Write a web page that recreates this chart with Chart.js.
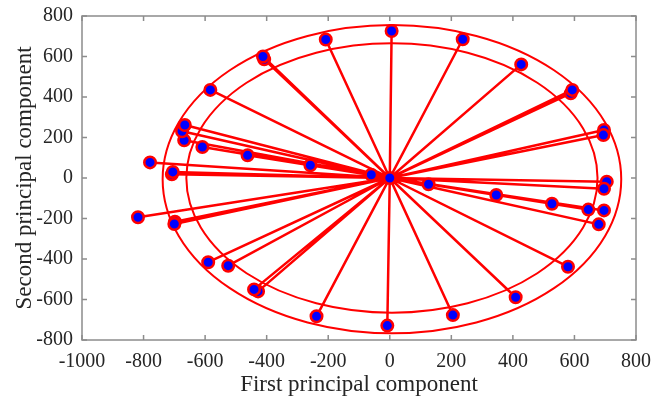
<!DOCTYPE html>
<html>
<head>
<meta charset="utf-8">
<script src="https://cdn.jsdelivr.net/npm/chart.js@4"></script>
<style>
  html, body { margin: 0; padding: 0; background: #fff; }
  #wrap { width: 664px; height: 397px; }
</style>
</head>
<body>
<div id="wrap"><canvas id="myChart" width="664" height="397"></canvas></div>
<script>
// scores on the first two principal components
const pc1 = [6, 237, 427, 588, 593, 696, 694, 705, 696, 126, 346, 527, 645, 696, 679, 579, 409, 205, -8,
  -238, -428, -441, -525, -590, -698, -700, -818, -708, -705, -779, -258, -462, -609, -668, -675, -666,
  -583, -408, -412, -208, -60, 0];
const pc2 = [726, 685, 561, 418, 435, 237, 212, -18, -53, -31, -84, -127, -156, -160, -229, -438, -589, -677, -729,
  -683, -560, -550, -433, -416, -216, -227, -194, 18, 30, 77, 63, 112, 153, 186, 231, 262,
  435, 586, 600, 684, 16, 0];

// the two confidence ellipses: [centerX, centerY, radiusX, radiusY]
const outerEllipse = [7, -6, 745, 761];
const innerEllipse = [7, 0, 668, 665];

const xTicks = [-1000, -800, -600, -400, -200, 0, 200, 400, 600, 800];
const yTicks = [-800, -600, -400, -200, 0, 200, 400, 600, 800];

const points = pc1.map((x, i) => ({ x: x, y: pc2[i] }));

// spokes: origin -> point -> origin -> point ...
const spokes = [];
points.forEach(p => {
  spokes.push({ x: 0, y: 0 });
  spokes.push(p);
});

const frameColor = '#8c8c8c';

// draws the ellipses under the data
const ellipsePlugin = {
  id: 'ellipses',
  beforeDatasetsDraw(chart) {
    const { ctx, scales: { x, y } } = chart;
    ctx.save();
    ctx.strokeStyle = '#ff0000';
    ctx.lineWidth = 2;
    [outerEllipse, innerEllipse].forEach(e => {
      const cx = x.getPixelForValue(e[0]);
      const cy = y.getPixelForValue(e[1]);
      const rx = Math.abs(x.getPixelForValue(e[0] + e[2]) - cx);
      const ry = Math.abs(y.getPixelForValue(e[1] + e[3]) - cy);
      ctx.beginPath();
      ctx.ellipse(cx, cy, rx, ry, 0, 0, Math.PI * 2);
      ctx.stroke();
    });
    ctx.restore();
  }
};

// box round the plot with inward tick marks on all sides
const framePlugin = {
  id: 'frame',
  afterDatasetsDraw(chart) {
    const { ctx, chartArea: a, scales: { x, y } } = chart;
    const tl = 5;
    ctx.save();
    ctx.strokeStyle = frameColor;
    ctx.lineWidth = 1.5;
    ctx.strokeRect(a.left, a.top, a.right - a.left, a.bottom - a.top);
    ctx.beginPath();
    xTicks.forEach(v => {
      const px = x.getPixelForValue(v);
      ctx.moveTo(px, a.bottom); ctx.lineTo(px, a.bottom - tl);
      ctx.moveTo(px, a.top); ctx.lineTo(px, a.top + tl);
    });
    yTicks.forEach(v => {
      const py = y.getPixelForValue(v);
      ctx.moveTo(a.left, py); ctx.lineTo(a.left + tl, py);
      ctx.moveTo(a.right, py); ctx.lineTo(a.right - tl, py);
    });
    ctx.stroke();
    ctx.restore();
  }
};

const tickFont = { family: '"Liberation Serif", "Times New Roman", serif', size: 20 };
const titleFont = { family: '"Liberation Serif", "Times New Roman", serif', size: 23 };

const config = {
  type: 'scatter',
  data: {
    datasets: [
      {
        // spokes sit behind the markers
        data: spokes,
        order: 1,
        showLine: true,
        borderColor: '#ff0000',
        borderWidth: 2.5,
        pointRadius: 0,
        fill: false
      },
      {
        data: points,
        order: 0,
        pointRadius: 5.75,
        pointBorderWidth: 2.5,
        pointBackgroundColor: '#0000ff',
        pointBorderColor: '#ff0000',
        showLine: false
      }
    ]
  },
  options: {
    responsive: false,
    animation: false,
    clip: false,
    layout: { padding: { top: 16, right: 28, left: 0, bottom: 0 } },
    plugins: { legend: { display: false }, tooltip: { enabled: false } },
    scales: {
      x: {
        type: 'linear',
        min: -1000,
        max: 800,
        afterBuildTicks: s => { s.ticks = xTicks.map(v => ({ value: v })); },
        afterFit: s => { s.height = 57; },
        grid: { display: false },
        border: { display: false },
        ticks: {
          font: tickFont,
          color: '#262626',
          padding: 2,
          maxRotation: 0,
          callback: v => String(v)
        },
        title: {
          display: true,
          text: 'First principal component',
          font: titleFont,
          color: '#262626',
          padding: { top: 0, bottom: -2 }
        }
      },
      y: {
        type: 'linear',
        min: -800,
        max: 800,
        afterBuildTicks: s => { s.ticks = yTicks.map(v => ({ value: v })); },
        afterFit: s => { s.width = 82; },
        grid: { display: false },
        border: { display: false },
        ticks: {
          font: tickFont,
          color: '#262626',
          padding: 1,
          callback: v => String(v)
        },
        title: {
          display: true,
          text: 'Second principal component',
          font: titleFont,
          color: '#262626',
          padding: { top: 11, bottom: 0 }
        }
      }
    }
  },
  plugins: [ellipsePlugin, framePlugin]
};

const ctx = document.getElementById('myChart').getContext('2d');
const myChart = new Chart(ctx, config);
</script>
</body>
</html>
